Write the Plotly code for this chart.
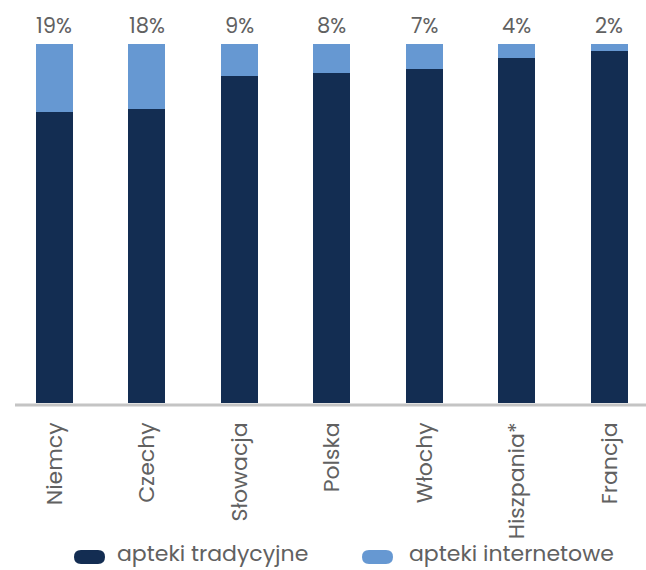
import plotly.graph_objects as go

categories = ["Niemcy", "Czechy", "Słowacja", "Polska", "Włochy", "Hiszpania*", "Francja"]
traditional = [81, 82, 91, 92, 93, 96, 98]
online = [19, 18, 9, 8, 7, 4, 2]
series_names = ["apteki tradycyjne", "apteki internetowe"]
colors = ["#132d52", "#6698d2"]

FONT = "Poppins, Inter, 'Open Sans', sans-serif"
TXT = "#616161"
W, H = 646, 570
TOP, BOTTOM_PX = 44, 403
PH = BOTTOM_PX - TOP

fig = go.Figure()
fig.add_trace(go.Bar(x=categories, y=traditional, name=series_names[0],
                     marker=dict(color=colors[0], line=dict(width=0)), width=0.4))
fig.add_trace(go.Bar(x=categories, y=online, name=series_names[1],
                     marker=dict(color=colors[1], line=dict(width=0)), width=0.4))

annotations = []
for c, t, o in zip(categories, traditional, online):
    annotations.append(dict(x=c, y=t + o, text=f"{o}%", showarrow=False, yanchor="bottom",
                            yshift=2, font=dict(family=FONT, size=21, color=TXT)))

def py2paper(py):
    return (BOTTOM_PX - py) / PH

shapes = [dict(type="line", xref="paper", yref="paper", x0=15 / W, x1=1.0,
               y0=py2paper(405), y1=py2paper(405), line=dict(color="#c4c4c4", width=3))]

# custom legend with pill markers
mark_y = 557
text_y = 553
leg_items = [(74, 115), (362, 407)]
for (mx, tx), name, col in zip(leg_items, series_names, colors):
    x0, x1 = mx, mx + 31
    y0, y1 = mark_y - 7, mark_y + 7
    r = 7
    path = (f"M {(x0 + r)/W},{py2paper(y0)} L {(x1 - r)/W},{py2paper(y0)} "
            f"Q {x1/W},{py2paper(y0)} {x1/W},{py2paper(mark_y)} "
            f"Q {x1/W},{py2paper(y1)} {(x1 - r)/W},{py2paper(y1)} "
            f"L {(x0 + r)/W},{py2paper(y1)} "
            f"Q {x0/W},{py2paper(y1)} {x0/W},{py2paper(mark_y)} "
            f"Q {x0/W},{py2paper(y0)} {(x0 + r)/W},{py2paper(y0)} Z")
    shapes.append(dict(type="path", xref="paper", yref="paper", path=path,
                       fillcolor=col, line=dict(width=0)))
    annotations.append(dict(xref="paper", yref="paper", x=tx / W, y=py2paper(text_y),
                            xanchor="left", yanchor="middle", text=name, showarrow=False,
                            font=dict(family=FONT, size=22, color=TXT)))

fig.update_layout(
    width=W, height=H,
    margin=dict(l=0, r=0, t=TOP, b=H - BOTTOM_PX),
    barmode="stack",
    plot_bgcolor="white", paper_bgcolor="white",
    showlegend=False,
    annotations=annotations,
    shapes=shapes,
    xaxis=dict(range=[-0.589, 6.395], tickangle=-90, showline=False, showgrid=False,
               ticks="", ticklabelstandoff=14,
               tickfont=dict(family=FONT, size=22, color=TXT)),
    yaxis=dict(range=[0, 100], visible=False, showgrid=False),
)

fig.write_html("out.html")
